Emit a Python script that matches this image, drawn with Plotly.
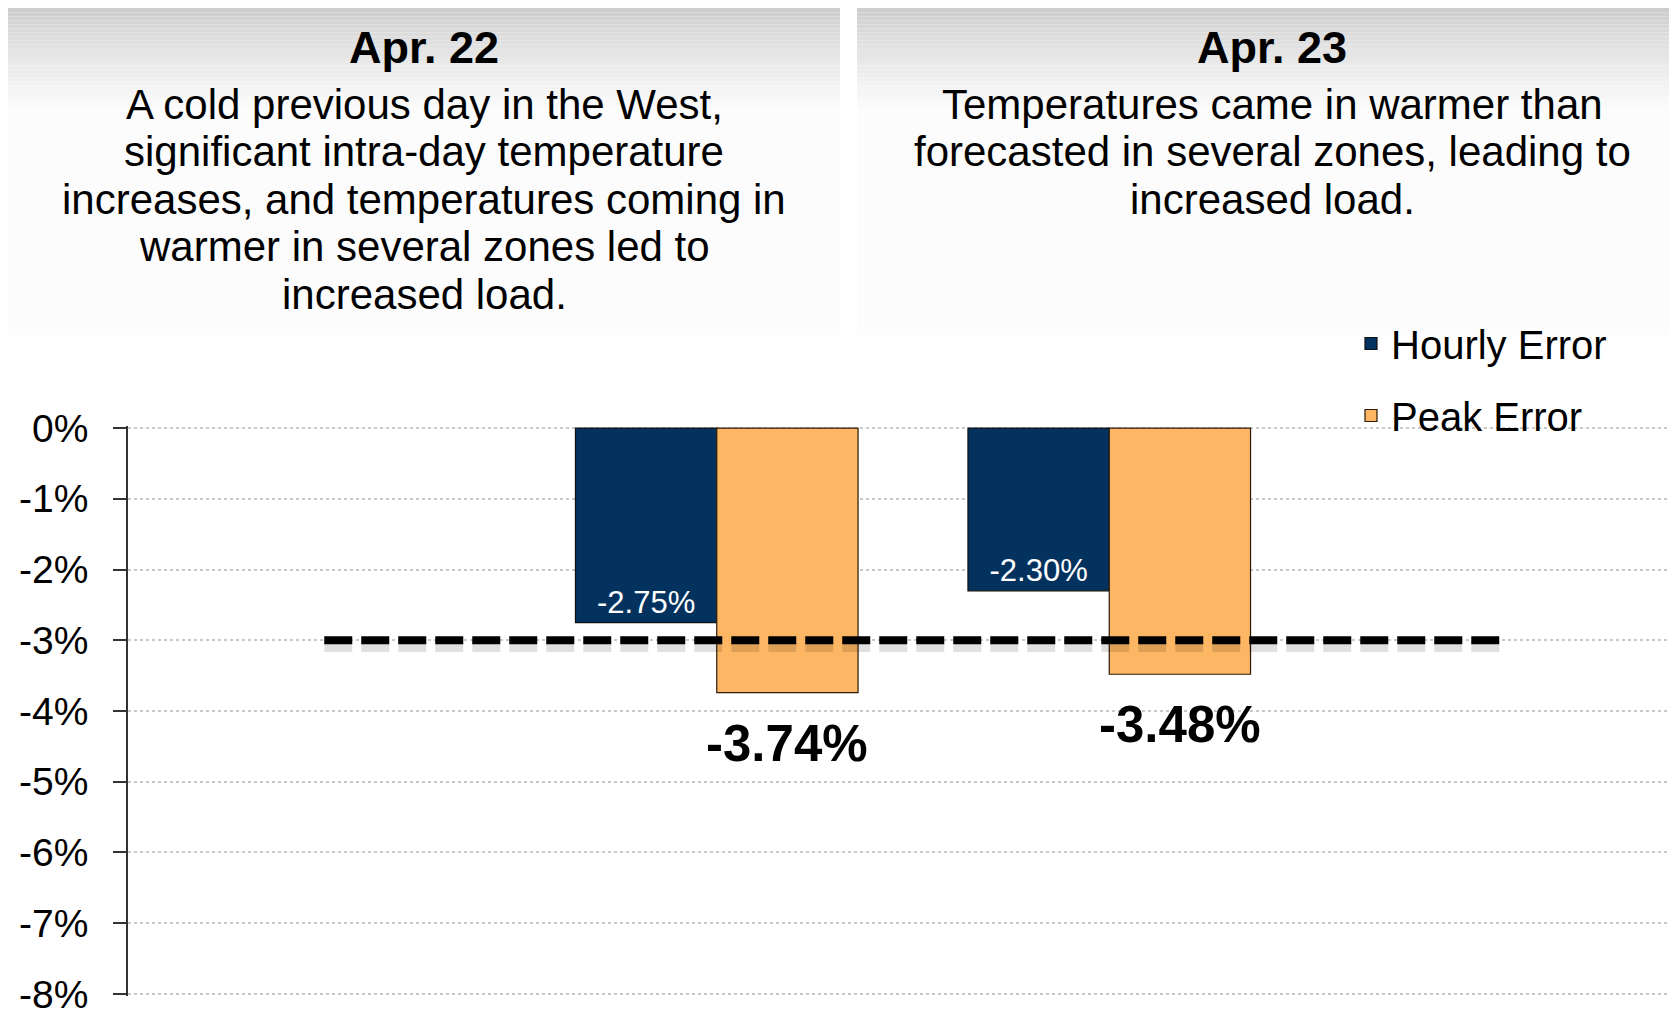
import plotly.graph_objects as go

# ---------------- data ----------------
CATEGORIES = ["Apr. 21", "Apr. 22", "Apr. 23", "Apr. 24"]
HOURLY_ERROR = [None, -2.75, -2.30, None]
PEAK_ERROR = [None, -3.74, -3.48, None]
THRESHOLD = -3.0
TICK_VALUES = [0, -1, -2, -3, -4, -5, -6, -7, -8]
TICK_LABELS = ["0%", "-1%", "-2%", "-3%", "-4%", "-5%", "-6%", "-7%", "-8%"]

HEADERS = ["Apr. 22", "Apr. 23"]
LEFT_TEXT = [
    "A cold previous day in the West,",
    "significant intra-day temperature",
    "increases, and temperatures coming in",
    "warmer in several zones led to",
    "increased load.",
]
RIGHT_TEXT = [
    "Temperatures came in warmer than",
    "forecasted in several zones, leading to",
    "increased load.",
]

# ---------------- geometry / styling ----------------
OFF = 8                      # page body margin of the html page
W, H = 1677 - OFF, 1015 - OFF
ML = 128 - OFF
PLOT_TOP = 428 - OFF
PLOT_BOT = 994 - OFF
EXT = 0.03                   # small range padding so the edge gridlines show
UNIT = (PLOT_BOT - PLOT_TOP) / 8.0
MT = int(round(PLOT_TOP - EXT * UNIT))
MB = int(round(H - (PLOT_BOT + EXT * UNIT)))
MR = 0
PW = W - ML - MR
PH = H - MT - MB
SLOT = 392.5
BARGAP = 0.28

FONT = "Liberation Sans, Arial, sans-serif"
NAVY = "#03325f"
ORANGE = "#fdb764"


def px_x(px):          # screen px -> paper
    return (px - OFF - ML) / PW


def px_y(py):
    return (H - MB - (py - OFF)) / PH


def fmt(v):
    return "" if v is None else f"{v:.2f}%"


fig = go.Figure()

fig.add_trace(go.Bar(
    name="Hourly Error", x=CATEGORIES, y=HOURLY_ERROR,
    marker=dict(color=NAVY, line=dict(color="#111111", width=1.2)),
    text=[fmt(v) for v in HOURLY_ERROR], textposition="inside",
    insidetextanchor="end", textangle=0, constraintext="none",
    textfont=dict(family=FONT, size=31, color="white"),
    legendgroup="h",
))
fig.add_trace(go.Bar(
    name="Peak Error", x=CATEGORIES, y=PEAK_ERROR,
    marker=dict(color=ORANGE, line=dict(color="#2a1a08", width=1.2)),
    legendgroup="p",
))

# shadow of the threshold line
fig.add_trace(go.Scatter(
    x=CATEGORIES, y=[THRESHOLD - 0.08] * len(CATEGORIES), mode="lines",
    line=dict(color="rgba(0,0,0,0.12)", width=12, dash="28px,9px"),
    showlegend=False, hoverinfo="skip",
))
fig.add_trace(go.Scatter(
    x=CATEGORIES, y=[THRESHOLD] * len(CATEGORIES), mode="lines",
    line=dict(color="black", width=8, dash="28px,9px"),
    showlegend=False, hoverinfo="skip",
))

annotations = []
# peak-error value labels, anchored at the bar ends through the axes
peak_shift = (1 - BARGAP) / 4 * SLOT
for c, v in zip(CATEGORIES, PEAK_ERROR):
    if v is None:
        continue
    annotations.append(dict(xref="x", yref="y", x=c, y=v, xshift=peak_shift,
                            yshift=-20, text=f"<b>{fmt(v)}</b>", showarrow=False,
                            xanchor="center", yanchor="top",
                            font=dict(family=FONT, size=51, color="black")))

# ---------------- header panels (decorative gradient) ----------------
shapes = []
panels = [(8, 840), (857, 1677)]
top, grad_end, panel_end = 4, 110, 335
steps = 26
for (x0, x1) in panels:
    for i in range(steps):
        y0 = top + (grad_end - top) * i / steps
        y1 = top + (grad_end - top) * (i + 1) / steps
        c = int(round(200 + (251 - 200) * (i / (steps - 1)) ** 0.75))
        shapes.append(dict(type="rect", xref="paper", yref="paper",
                           x0=px_x(x0), x1=px_x(x1), y0=px_y(y1), y1=px_y(y0),
                           fillcolor=f"rgb({c},{c},{c})", line=dict(width=0),
                           layer="below"))
    shapes.append(dict(type="rect", xref="paper", yref="paper",
                       x0=px_x(x0), x1=px_x(x1), y0=px_y(panel_end), y1=px_y(grad_end),
                       fillcolor="rgb(252,252,252)", line=dict(width=0), layer="below"))

centers = [424, 1272]
for cx, head in zip(centers, HEADERS):
    annotations.append(dict(xref="paper", yref="paper", x=px_x(cx), y=px_y(48),
                            text=f"<b>{head}</b>", showarrow=False,
                            xanchor="center", yanchor="middle",
                            font=dict(family=FONT, size=45, color="black")))
line_y = [104, 151, 199, 247, 294]
for cx, lines in zip(centers, [LEFT_TEXT, RIGHT_TEXT]):
    for ly, t in zip(line_y, lines):
        annotations.append(dict(xref="paper", yref="paper", x=px_x(cx), y=px_y(ly),
                                text=t, showarrow=False,
                                xanchor="center", yanchor="middle",
                                font=dict(family=FONT, size=42, color="black")))

fig.update_layout(
    width=W, height=H,
    margin=dict(l=ML, r=MR, t=MT, b=MB, autoexpand=False),
    paper_bgcolor="white", plot_bgcolor="white",
    barmode="group", bargap=BARGAP, bargroupgap=0,
    shapes=shapes, annotations=annotations,
    legend=dict(x=px_x(1351), y=px_y(311), xanchor="left", yanchor="top",
                font=dict(family=FONT, size=40, color="black"),
                bgcolor="rgba(0,0,0,0)", tracegroupgap=17, traceorder="grouped"),
    xaxis=dict(range=[-0.5, -0.5 + PW / SLOT], showticklabels=False, showgrid=False,
               zeroline=False, showline=False, ticks=""),
    yaxis=dict(range=[-8 - EXT, 0 + EXT], tickvals=TICK_VALUES, ticktext=TICK_LABELS,
               tickfont=dict(family=FONT, size=39, color="black"),
               ticklabeloverflow="allow",
               showgrid=True, gridcolor="#c8c8c8", gridwidth=2, griddash="dot",
               zeroline=False, showline=True, linecolor="#333333", linewidth=1.5,
               ticks="outside", ticklen=13, tickwidth=1.5, tickcolor="#333333",
               ticklabelstandoff=17),
)

fig.write_html("out.html")
